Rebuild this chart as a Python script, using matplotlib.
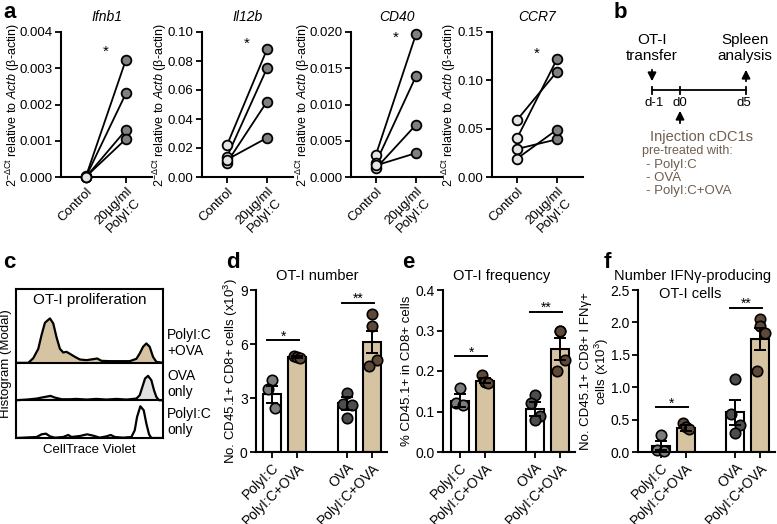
import matplotlib
matplotlib.use('Agg')
import matplotlib.pyplot as plt
from matplotlib.ticker import FormatStrFormatter, MultipleLocator

plt.rcParams['font.family'] = ['Liberation Sans', 'DejaVu Sans']
plt.rcParams['mathtext.fontset'] = 'custom'
plt.rcParams['mathtext.rm'] = 'Liberation Sans'
plt.rcParams['mathtext.it'] = 'Liberation Sans:italic'
plt.rcParams['mathtext.bf'] = 'Liberation Sans:bold'

# ---- panel a data (qPCR, paired control vs PolyI:C) ----
genes = ['Ifnb1', 'Il12b', 'CD40', 'CCR7']
ctrl_vals = [[0.00002, 0.00001, 0.0, 0.00001],
             [0.022, 0.014, 0.010, 0.012],
             [0.0031, 0.0020, 0.0012, 0.0016],
             [0.059, 0.040, 0.029, 0.019]]
pic_vals = [[0.00324, 0.00231, 0.00130, 0.00105],
            [0.088, 0.075, 0.052, 0.027],
            [0.0197, 0.0139, 0.0072, 0.0033],
            [0.109, 0.122, 0.039, 0.049]]
a_ymax = [0.004, 0.10, 0.020, 0.15]
a_ystep = [0.001, 0.02, 0.005, 0.05]
a_fmt = ['%.3f', '%.2f', '%.3f', '%.2f']
a_star = [0.00334, 0.089, 0.0186, 0.123]
a_xlabels = ['Control', '20µg/ml\nPolyI:C']

# ---- panel c data (CTV histograms) ----
top_x = [48, 85, 100, 115, 125, 135, 150, 160, 170, 180, 190, 200, 210, 225, 240, 260,
         280, 292, 305, 330, 360, 390, 410, 420, 430, 440, 450, 460, 470, 490]
top_h = [0, 0, 14, 42, 84, 120, 133, 118, 76, 42, 31, 33, 27, 18, 10, 8,
         11, 13, 6, 5, 5, 5, 12, 28, 48, 58, 48, 18, 3, 0]
mid_x = [48, 80, 110, 135, 152, 165, 185, 210, 230, 260, 290, 320, 350, 380, 410,
         420, 428, 436, 445, 455, 463, 470, 478, 490]
mid_h = [0, 2, 5, 10, 13, 8, 3, 3, 4, 2, 4, 2, 4, 2, 5, 15, 40, 65, 73, 60, 30, 10, 0, 0]
bot_x = [48, 110, 125, 138, 150, 165, 190, 205, 215, 240, 262, 280, 300, 320, 333, 345,
         370, 395, 405, 412, 422, 432, 440, 448, 455, 490]
bot_h = [0, 3, 11, 13, 5, 1, 3, 9, 3, 6, 11, 7, 1, 5, 9, 3, 1, 3, 23, 63, 95, 83, 43, 11, 0, 0]
hist_labels = ['PolyI:C\n+OVA', 'OVA\nonly', 'PolyI:C\nonly']

# ---- panels d, e, f data ----
groups = ['PolyI:C', 'PolyI:C+OVA', 'OVA', 'PolyI:C+OVA']
d_means = [3.2, 5.3, 2.7, 6.1]
d_sems = [0.45, 0.05, 0.38, 0.62]
d_points = [[4.02, 3.5, 2.42], [5.35, 5.28, 5.25], [3.3, 2.69, 2.6, 1.9], [7.67, 7.02, 5.11, 4.78]]
e_means = [0.126, 0.176, 0.107, 0.254]
e_sems = [0.016, 0.006, 0.017, 0.027]
e_points = [[0.158, 0.12, 0.115], [0.19, 0.172, 0.17], [0.141, 0.121, 0.089, 0.079],
            [0.30, 0.30, 0.226, 0.199]]
f_means = [0.10, 0.37, 0.61, 1.74]
f_sems = [0.065, 0.04, 0.19, 0.17]
f_points = [[0.26, 0.03, 0.02], [0.45, 0.39, 0.35], [1.13, 0.58, 0.42, 0.29],
            [2.05, 1.94, 1.84, 1.25]]
d_sig = [6.2, 8.3]
e_sig = [0.236, 0.345]
f_sig = [0.69, 2.22]

# styling
TAN = '#d6c3a2'
BROWN_TXT = '#6e5e50'
W, H = 777, 524
xpos = [0, 1, 3, 4]
bar_faces = ['white', TAN, 'white', TAN]
pt_colors = ['#7d7d7d', '#5e4838', '#4d4d4d', '#5e4838']
jitter = [[0, -0.15, 0.12], [-0.12, 0.0, 0.12], [0, -0.16, 0.2, 0], [0, 0, 0.2, -0.13]]

fig = plt.figure(figsize=(W / 100, H / 100), dpi=100)
ov = fig.add_axes([0, 0, 1, 1])
ov.set_xlim(0, W)
ov.set_ylim(H, 0)
ov.axis('off')


def px_axes(x0, y0, x1, y1):
    ax = fig.add_axes([x0 / W, 1 - y1 / H, (x1 - x0) / W, (y1 - y0) / H])
    ax.patch.set_alpha(0)
    return ax


def style(ax):
    for s in ['top', 'right']:
        ax.spines[s].set_visible(False)
    for s in ['left', 'bottom']:
        ax.spines[s].set_linewidth(1.5)
    ax.tick_params(direction='out', length=4, width=1.3, labelsize=9.5, pad=2)


# ---- panel a ----
a_left = [61, 202, 351, 492]
a_lab_x = [-0.43, -0.36, -0.43, -0.37]
for i, g in enumerate(genes):
    ax = px_axes(a_left[i], 32, a_left[i] + 91, 177)
    style(ax)
    for c, p in zip(ctrl_vals[i], pic_vals[i]):
        ax.plot([0, 1], [c, p], color='black', lw=1.3, zorder=2)
    ax.plot([0] * 4, ctrl_vals[i], 'o', ms=7, mfc='#e4e4e4', mec='black', mew=1.3,
            zorder=3, clip_on=False)
    ax.plot([1] * 4, pic_vals[i], 'o', ms=7, mfc='#808080', mec='black', mew=1.3,
            zorder=3, clip_on=False)
    ax.set_xlim(-0.625, 1.65)
    ax.set_ylim(0, a_ymax[i])
    ax.yaxis.set_major_locator(MultipleLocator(a_ystep[i]))
    ax.yaxis.set_major_formatter(FormatStrFormatter(a_fmt[i]))
    ax.set_xticks([0, 1])
    ax.set_xticklabels(a_xlabels, rotation=45, ha='right', rotation_mode='anchor',
                       multialignment='center', fontsize=9.5)
    ax.set_title(g, style='italic', fontsize=10, pad=8)
    ax.text(0.5, a_star[i], '*', ha='center', va='baseline', fontsize=11)
    ax.set_ylabel(r'$\mathregular{2^{-\Delta Ct}}$ relative to $\mathit{Actb}$ (β-actin)',
                  fontsize=9)
    ax.yaxis.set_label_coords(a_lab_x[i], 0.5)

# ---- panel b (timeline) ----
ov.plot([652, 746], [90, 90], color='black', lw=1.3)
for tx in [652, 680, 746]:
    ov.plot([tx, tx], [86.5, 93.5], color='black', lw=1.3)
for tx, lab in zip([654, 680, 744], ['d-1', 'd0', 'd5']):
    ov.text(tx, 103, lab, ha='center', va='center', fontsize=9.5)
arr = dict(arrowstyle='-|>,head_length=0.5,head_width=0.25', color='black', lw=1.3)
ov.annotate('', xy=(652, 84), xytext=(652, 67), arrowprops=arr)
ov.annotate('', xy=(746, 67), xytext=(746, 84), arrowprops=arr)
ov.annotate('', xy=(680, 108), xytext=(680, 126), arrowprops=arr)
ov.text(652, 48, 'OT-I\ntransfer', ha='center', va='center', fontsize=11, linespacing=1.25)
ov.text(745, 48, 'Spleen\nanalysis', ha='center', va='center', fontsize=11, linespacing=1.25)
ov.text(702, 137, 'Injection cDC1s', ha='center', va='center', fontsize=10.5,
        color=BROWN_TXT)
ov.text(687, 151, 'pre-treated with:', ha='center', va='center', fontsize=9, color=BROWN_TXT)
for ty, lab in zip([165, 178, 191], ['- PolyI:C', '- OVA', '- PolyI:C+OVA']):
    ov.text(646, ty, lab, ha='left', va='center', fontsize=9.5, color=BROWN_TXT)

# ---- panel c (histograms) ----
axc = px_axes(16, 289, 163, 438)
for s in axc.spines.values():
    s.set_linewidth(1.5)
axc.set_xticks([])
axc.set_yticks([])
axc.set_xlim(48, 490)
axc.set_ylim(0, 446)
rows = [(top_x, top_h, 225, TAN), (mid_x, mid_h, 113, '#e2e2e2'), (bot_x, bot_h, 0, 'white')]
for xs, hs, base, fc in rows:
    ys = [base + h for h in hs]
    axc.fill_between(xs, base, ys, color=fc, lw=0)
    axc.plot(xs, ys, color='black', lw=1.6)
for base in [113, 225]:
    axc.axhline(base, color='black', lw=1.5)
axc.text(269, 413, 'OT-I proliferation', ha='center', va='center', fontsize=11)
axc.set_ylabel('Histogram (Modal)', fontsize=9.5, labelpad=3)
axc.set_xlabel('CellTrace Violet', fontsize=9.5, labelpad=4)
for ty, lab in zip([343, 384, 422], hist_labels):
    ov.text(167, ty, lab, ha='left', va='center', fontsize=10, linespacing=1.2)


# ---- panels d, e, f ----
def bar_panel(x0, x1, means, sems, points, sig, ymax, ystep, fmt, ylabel, xleft, labx):
    ax = px_axes(x0, 290, x1, 452)
    style(ax)
    ax.tick_params(labelsize=10)
    for k in range(4):
        ax.bar(xpos[k], means[k], width=0.72, color=bar_faces[k], edgecolor='black',
               lw=1.5, zorder=1)
        n = len(points[k])
        ax.plot([xpos[k] + j for j in jitter[k][:n]], points[k], 'o', ms=7.5,
                mfc=pt_colors[k], mec='black', mew=1.2, zorder=2, clip_on=False)
        ax.errorbar(xpos[k], means[k], yerr=sems[k], color='black', lw=1.4,
                    capsize=4, capthick=1.4, zorder=3)
    for (a, b), y, star in zip([(0, 1), (3, 4)], sig, ['*', '**']):
        ax.plot([a - 0.2, b + 0.08], [y, y], color='black', lw=1.4, clip_on=False)
        ax.text((a + b) / 2 - 0.05, y, star, ha='center', va='baseline', fontsize=10)
    ax.set_ylim(0, ymax)
    ax.set_xlim(xleft, 4.6)
    ax.yaxis.set_major_locator(MultipleLocator(ystep))
    ax.yaxis.set_major_formatter(FormatStrFormatter(fmt))
    ax.set_xticks(xpos)
    ax.set_xticklabels(groups, rotation=45, ha='right', rotation_mode='anchor', fontsize=10)
    ax.set_ylabel(ylabel, fontsize=9.5, linespacing=1.05)
    ax.yaxis.set_label_coords(labx, 0.5)
    return ax


axd = bar_panel(256, 387, d_means, d_sems, d_points, d_sig, 9, 3, '%d',
                r'No. CD45.1+ CD8+ cells (x10$^{3}$)', -0.64, -0.12)
axe = bar_panel(443, 575, e_means, e_sems, e_points, e_sig, 0.4, 0.1, '%.1f',
                '% CD45.1+ in CD8+ cells', -0.68, -0.225)
axf = bar_panel(638, 775, f_means, f_sems, f_points, f_sig, 2.5, 0.5, '%.1f',
                'No. CD45.1+ CD8+ I FNγ+\ncells (x10$^{3}$)', -0.92, -0.2)

ov.text(317, 276, 'OT-I number', ha='center', va='center', fontsize=10.5)
ov.text(502, 276, 'OT-I frequency', ha='center', va='center', fontsize=10.5)
ov.text(693, 276, 'Number IFNγ-producing', ha='center', va='center', fontsize=10.5)
ov.text(690, 294, 'OT-I cells', ha='center', va='center', fontsize=10.5)

# panel letters
for lx, ly, lab in [(3, 12, 'a'), (614, 12, 'b'), (3, 262, 'c'), (226, 262, 'd'),
                    (402, 262, 'e'), (604, 262, 'f')]:
    ov.text(lx, ly, lab, ha='left', va='center', fontsize=16, fontweight='bold')

fig.savefig('out.png', dpi=100)
